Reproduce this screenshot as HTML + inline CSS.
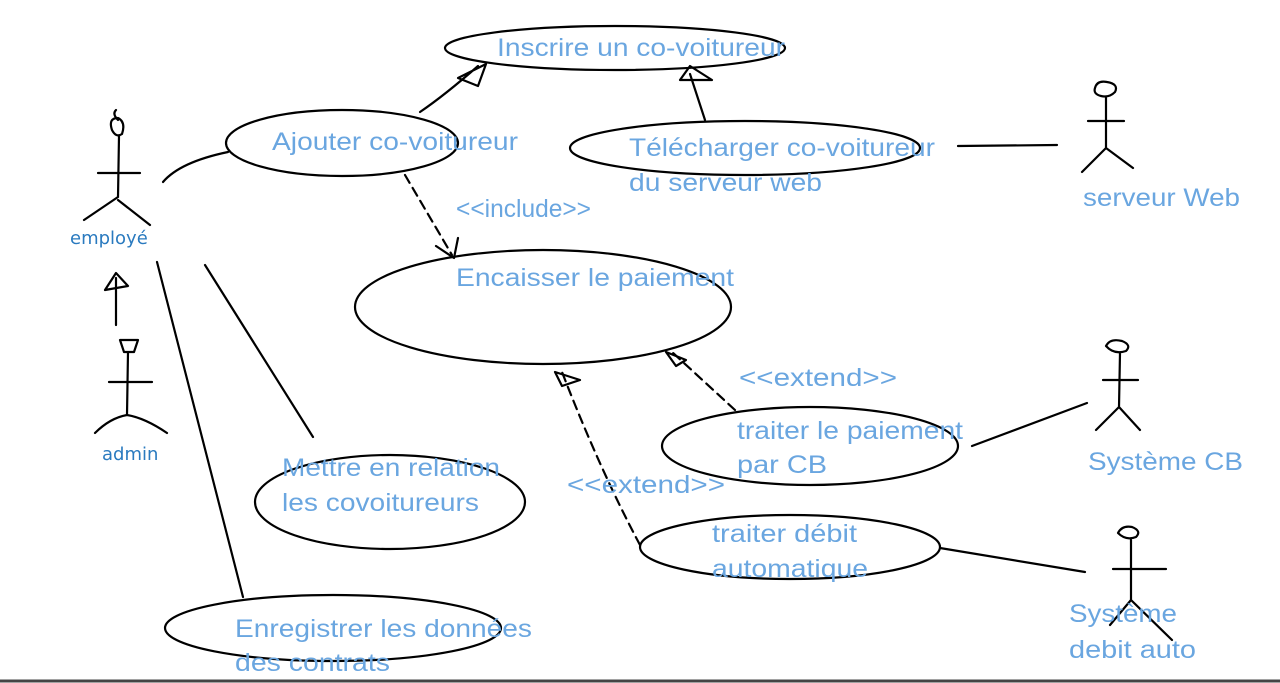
<!DOCTYPE html>
<html><head><meta charset="utf-8"><style>
html,body{margin:0;padding:0;background:#fff;width:1280px;height:683px;overflow:hidden}
svg{display:block}
.t{font-family:"Liberation Sans",sans-serif;font-size:25px;fill:#6aa6e0}
.a{font-family:"DejaVu Sans","Liberation Sans",sans-serif;font-size:18px;fill:#2a7abf}
.s{stroke:#000;stroke-width:2.2;fill:none;stroke-linecap:round;stroke-linejoin:round}
.d{stroke-dasharray:9 6}
</style></head><body>
<svg width="1280" height="683" viewBox="0 0 1280 683">
<g class="s">
<ellipse cx="615" cy="48" rx="170" ry="22"/>
<ellipse cx="342" cy="143" rx="116" ry="33"/>
<ellipse cx="745" cy="148" rx="175" ry="27"/>
<ellipse cx="543" cy="307" rx="188" ry="57"/>
<ellipse cx="810" cy="446" rx="148" ry="39"/>
<ellipse cx="390" cy="502" rx="135" ry="47"/>
<ellipse cx="790" cy="547" rx="150" ry="32"/>
<ellipse cx="333" cy="628" rx="168" ry="33"/>
<path d="M118 120 q-6 -6 -2 -10 M112 130 q-4 -12 6 -12 q8 4 4 16 q-6 4 -10 -4 Z"/>
<path d="M119 136 L118 197 M98 173 L140 173 M118 197 L84 220 M118 200 L150 225"/>
<path d="M120 340 L138 340 L134 352 L124 352 Z M128 352 L127 415 M109 382 L152 382 M127 415 Q110 418 95 433 M127 415 Q145 418 167 433"/>
<path d="M116 325 L116 278 M105 290 L116 273 L128 286 Z"/>
<path d="M1095 88 q2 -8 12 -6 q12 2 8 10 q-6 6 -14 4 q-8 -2 -6 -8 Z M1106 98 L1106 148 M1088 121 L1124 121 M1106 148 L1082 172 M1106 148 L1133 168"/>
<path d="M1106 346 q4 -8 16 -5 q10 4 4 10 q-12 4 -20 -5 Z M1120 353 L1119 407 M1103 380 L1138 380 M1119 407 L1096 430 M1119 407 L1140 430"/>
<path d="M1118 533 q4 -8 14 -6 q10 4 4 10 q-10 4 -18 -4 Z M1131 540 L1131 600 M1113 569 L1166 569 M1131 600 L1110 625 M1131 600 L1172 640"/>
<path d="M163 182 Q180 162 228 152"/>
<path d="M205 265 L313 437"/>
<path d="M157 262 L243 597"/>
<path d="M958 146 L1057 145"/>
<path d="M972 446 L1087 403"/>
<path d="M940 548 L1085 572"/>
<path d="M420 112 Q445 95 478 66 M458 78 L486 64 L478 86 Z"/>
<path d="M705 120 L690 74 M680 80 L690 66 L712 80 Z"/>
<path class="d" d="M405 175 L452 255"/>
<path d="M436 246 L454 258 L458 238"/>
<path class="d" d="M735 410 L672 352"/>
<path d="M666 352 L686 360 L676 366 Z"/>
<path class="d" d="M640 545 Q600 470 562 372"/>
<path d="M555 372 L580 380 L562 386 Z"/>
</g>
<line x1="0" y1="681" x2="1280" y2="681" stroke="#444" stroke-width="3"/>
<g class="t">
<text x="497" y="56" textLength="288" lengthAdjust="spacingAndGlyphs">Inscrire un co-voitureur</text>
<text x="272" y="150" textLength="246" lengthAdjust="spacingAndGlyphs">Ajouter co-voitureur</text>
<text x="629" y="156" textLength="306" lengthAdjust="spacingAndGlyphs">Télécharger co-voitureur</text>
<text x="629" y="191" textLength="193" lengthAdjust="spacingAndGlyphs">du serveur web</text>
<text x="456" y="217" textLength="135" lengthAdjust="spacingAndGlyphs">&lt;&lt;include&gt;&gt;</text>
<text x="456" y="286" textLength="278" lengthAdjust="spacingAndGlyphs">Encaisser le paiement</text>
<text x="739" y="386" textLength="158" lengthAdjust="spacingAndGlyphs">&lt;&lt;extend&gt;&gt;</text>
<text x="737" y="439" textLength="226" lengthAdjust="spacingAndGlyphs">traiter le paiement</text>
<text x="737" y="473" textLength="90" lengthAdjust="spacingAndGlyphs">par CB</text>
<text x="567" y="493" textLength="158" lengthAdjust="spacingAndGlyphs">&lt;&lt;extend&gt;&gt;</text>
<text x="282" y="476" textLength="218" lengthAdjust="spacingAndGlyphs">Mettre en relation</text>
<text x="282" y="511" textLength="197" lengthAdjust="spacingAndGlyphs">les covoitureurs</text>
<text x="712" y="542" textLength="145" lengthAdjust="spacingAndGlyphs">traiter débit</text>
<text x="712" y="577" textLength="156" lengthAdjust="spacingAndGlyphs">automatique</text>
<text x="235" y="637" textLength="297" lengthAdjust="spacingAndGlyphs">Enregistrer les données</text>
<text x="235" y="671" textLength="155" lengthAdjust="spacingAndGlyphs">des contrats</text>
<text x="1083" y="206" textLength="157" lengthAdjust="spacingAndGlyphs">serveur Web</text>
<text x="1088" y="470" textLength="155" lengthAdjust="spacingAndGlyphs">Système CB</text>
<text x="1069" y="622" textLength="108" lengthAdjust="spacingAndGlyphs">Système</text>
<text x="1069" y="658" textLength="127" lengthAdjust="spacingAndGlyphs">debit auto</text>
</g>
<text class="a" x="70" y="244">employé</text>
<text class="a" x="102" y="460">admin</text>
</svg>
</body></html>
